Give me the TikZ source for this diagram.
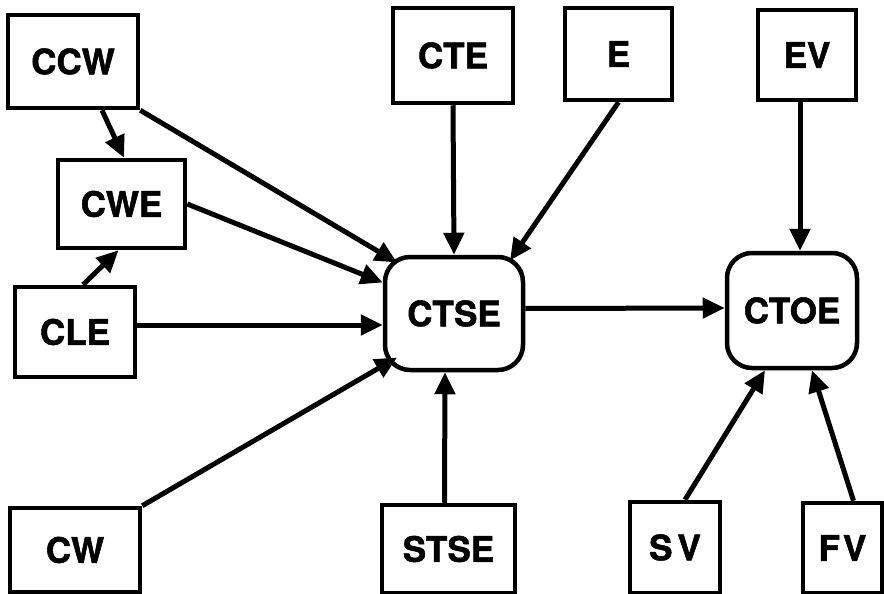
\documentclass[tikz,border=0pt]{standalone}
\usepackage{fontspec}
\setmainfont{TeX Gyre Heros}[BoldFeatures={FakeBold=1.5}]
\usetikzlibrary{arrows.meta,calc}
\begin{document}
\begin{tikzpicture}[x=1pt,y=-1pt,
  box/.style={draw,line width=4.5pt,rectangle,inner sep=0pt,
    font=\fontsize{35}{35}\selectfont\bfseries},
  hub/.style={box,rounded corners=25pt},
  link/.style={line width=5pt,-{Triangle[length=22pt,width=20pt]}}]
\useasboundingbox (0,0) rectangle (884,594);
\clip (0,0) rectangle (884,594);

% source boxes on the left
\node[box,minimum width=130pt,minimum height=93pt] (ccw) at (73,61.5) {CCW};
\node[box,minimum width=127pt,minimum height=88pt] (cwe) at (121.5,204) {CWE};
\node[box,minimum width=120pt,minimum height=90pt] (cle) at (75,332) {CLE};
\node[box,minimum width=130pt,minimum height=84pt] (cw) at (75,550) {CW};

% source boxes along the top
\node[box,minimum width=120pt,minimum height=95pt] (cte) at (453,55.5) {CTE};
\node[box,minimum width=107pt,minimum height=92pt] (e) at (618.5,54) {E};
\node[box,minimum width=98pt,minimum height=90pt] (ev) at (807,55) {EV};

% the two rounded hubs
\node[hub,minimum width=138pt,minimum height=113pt] (ctse) at (454,313.5) {CTSE};
\node[hub,minimum width=130pt,minimum height=115pt] (ctoe) at (792,310.5) {CTOE};

% source boxes along the bottom
\node[box,minimum width=133pt,minimum height=88pt] (stse) at (448.5,549) {STSE};
\node[box,minimum width=90pt,minimum height=91pt] (sv) at (675,547.5) {S\kern5pt V};
\node[box,minimum width=79pt,minimum height=90pt] (fv) at (842.5,548) {F\kern3pt V};

% connectors
\draw[link] ($(ccw.south)+(29,0)$) -- ($(cwe.north)+(2.5,0)$);
\draw[link] (ccw.south east) -- ($(ctse.center)+(-57,-51)$);
\draw[link] (cwe.east) -- ($(ctse.west)+(0,-31)$);
\draw[link] ($(cle.north)+(8,0)$) -- ($(cwe.south)+(-3,0)$);
\draw[link] ($(cle.east)+(0,-7)$) -- ($(ctse.west)+(0,11.5)$);
\draw[link] (cw.north east) -- ($(ctse.center)+(-57,44)$);
\draw[link] (cte.south) -- (ctse.north);
\draw[link] (e.south) -- ($(ctse.center)+(56,-53)$);
\draw[link] ($(ctse.east)+(0,-5)$) -- ($(ctoe.west)+(0,-2.5)$);
\draw[link] ($(ev.south)+(-7,0)$) -- ($(ctoe.north)+(8,0)$);
\draw[link] ($(stse.north)+(-4,0)$) -- ($(ctse.south)+(-9,0)$);
\draw[link] ($(sv.north)+(10,0)$) -- ($(ctoe.south)+(-27,0)$);
\draw[link] ($(fv.north)+(11,0)$) -- ($(ctoe.south)+(20,0)$);
\end{tikzpicture}
\end{document}
